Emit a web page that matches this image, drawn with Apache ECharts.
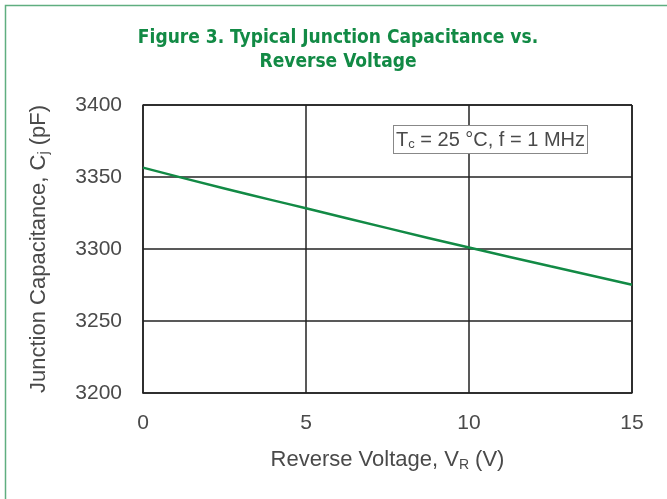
<!DOCTYPE html>
<html>
<head>
<meta charset="utf-8">
<script src="https://cdn.jsdelivr.net/npm/echarts@6/dist/echarts.min.js"></script>
<style>
  html, body { margin: 0; padding: 0; background: #fff; }
  #chart { width: 667px; height: 499px; }
</style>
</head>
<body>
<div id="chart"></div>
<script>
// reverse voltage (V) and junction capacitance (pF)
var voltage = [0, 2.5, 5, 7.5, 10, 12.5, 15];
var capacitance = [3356.5, 3342, 3328.3, 3314.5, 3301, 3288, 3275.2];
var xTicks = [0, 5, 10, 15];
var yTicks = [3200, 3250, 3300, 3350, 3400];

var green = '#128a45';
var textGrey = '#4a4a4a';
var labelFont = '"Liberation Sans", Arial, sans-serif';

var chart = echarts.init(document.getElementById('chart'));

var option = {
    animation: false,
    graphic: [
        {
            // figure frame
            type: 'rect',
            shape: { x: 5.5, y: 5.5, width: 700, height: 520 },
            style: { fill: 'none', stroke: '#5fae80', lineWidth: 1.5 }
        },
        {
            type: 'text',
            x: 338,
            y: 26,
            style: {
                text: 'Figure 3. Typical Junction Capacitance vs.\nReverse Voltage',
                textAlign: 'center',
                fill: green,
                font: 'bold 19px "Liberation Sans Narrow", "DejaVu Sans Condensed", sans-serif',
                lineHeight: 24
            }
        },
        {
            // conditions box
            type: 'text',
            left: 393,
            top: 125,
            style: {
                text: 'T{sub|c} = 25 °C, f = 1 MHz',
                font: '20px ' + labelFont,
                fill: textGrey,
                backgroundColor: '#fff',
                borderColor: '#888',
                borderWidth: 1,
                padding: [3, 2, 2, 2],
                rich: {
                    sub: { fontSize: 13, verticalAlign: 'bottom', padding: [9, 0, 0, 0], fill: textGrey, fontFamily: labelFont }
                }
            },
            z: 10
        }
    ],
    grid: { left: 143, top: 105, right: 35, bottom: 106 },
    xAxis: {
        type: 'value',
        min: xTicks[0],
        max: xTicks[xTicks.length - 1],
        interval: 5,
        name: 'Reverse Voltage, V{sub|R} (V)',
        nameLocation: 'middle',
        nameGap: 54,
        nameTextStyle: {
            fontSize: 22, color: textGrey, fontFamily: labelFont,
            rich: { sub: { fontSize: 14, color: textGrey, verticalAlign: 'bottom', padding: [11, 0, 0, 0], fontFamily: labelFont } }
        },
        axisLine: { show: true, lineStyle: { color: '#222', width: 1.5 } },
        axisTick: { show: false },
        axisLabel: { fontSize: 21, color: textGrey, fontFamily: labelFont, margin: 20 },
        splitLine: { show: true, lineStyle: { color: '#222', width: 1.5 } }
    },
    yAxis: {
        type: 'value',
        min: yTicks[0],
        max: yTicks[yTicks.length - 1],
        interval: 50,
        name: 'Junction Capacitance, C{sub|j} (pF)',
        nameLocation: 'middle',
        nameGap: 92,
        nameTextStyle: {
            fontSize: 22, color: textGrey, fontFamily: labelFont,
            rich: { sub: { fontSize: 14, color: textGrey, verticalAlign: 'bottom', padding: [11, 0, 0, 0], fontFamily: labelFont } }
        },
        axisLine: { show: true, lineStyle: { color: '#222', width: 1.5 } },
        axisTick: { show: false },
        axisLabel: {
            fontSize: 21, color: textGrey, fontFamily: labelFont, margin: 21,
            formatter: function (v) { return String(v); }
        },
        splitLine: { show: true, lineStyle: { color: '#222', width: 1.5 } }
    },
    series: [
        {
            type: 'line',
            smooth: true,
            symbol: 'none',
            data: voltage.map(function (v, i) { return [v, capacitance[i]]; }),
            lineStyle: { color: green, width: 2.5 },
            z: 5
        },
        {
            // right and top frame lines
            type: 'line',
            symbol: 'none',
            data: [],
            markLine: {
                silent: true,
                symbol: 'none',
                label: { show: false },
                lineStyle: { color: '#222', width: 1.5, type: 'solid' },
                data: [{ xAxis: 15 }, { yAxis: 3400 }]
            }
        }
    ]
};

chart.setOption(option);
</script>
</body>
</html>
